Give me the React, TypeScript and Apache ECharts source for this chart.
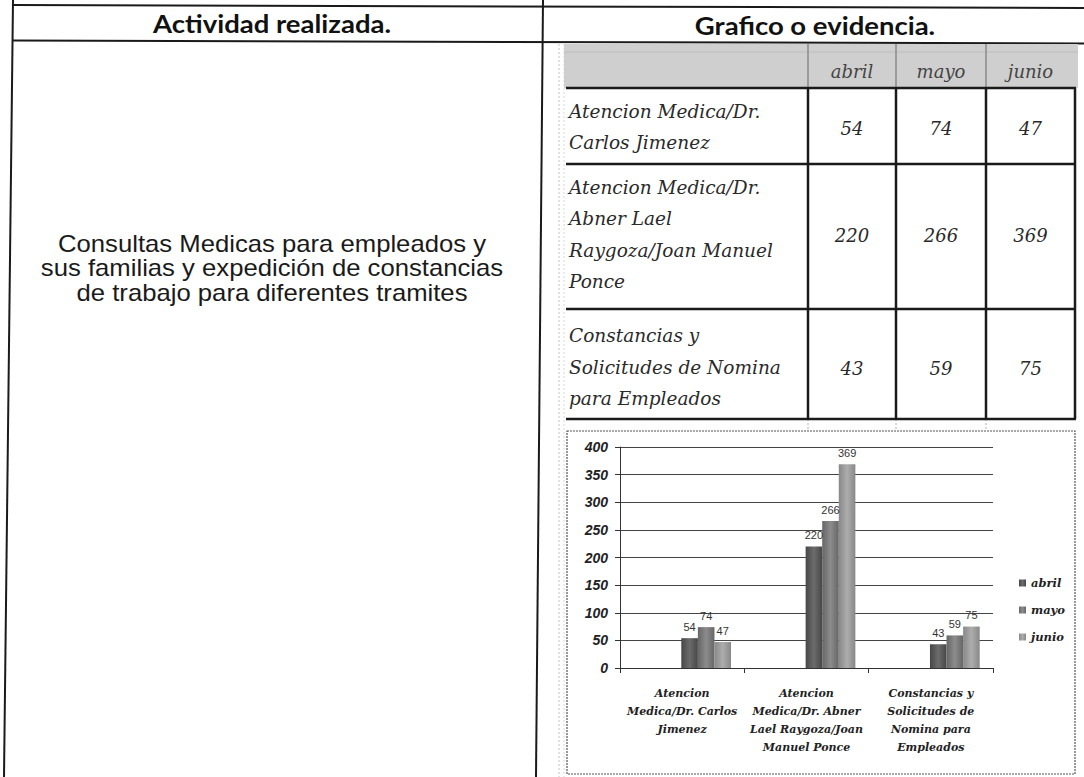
import React, { useEffect, useRef } from "react";
import * as echarts from "echarts";

// ---------- data ----------
const months = ["abril", "mayo", "junio"];
const categories = [
  "Atencion Medica/Dr. Carlos Jimenez",
  "Atencion Medica/Dr. Abner Lael Raygoza/Joan Manuel Ponce",
  "Constancias y Solicitudes de Nomina para Empleados",
];
const chartCategoryLabels = [
  "Atencion\nMedica/Dr. Carlos\nJimenez",
  "Atencion\nMedica/Dr. Abner\nLael Raygoza/Joan\nManuel Ponce",
  "Constancias y\nSolicitudes de\nNomina para\nEmpleados",
];
const tableRowLabels = [
  ["Atencion Medica/Dr.", "Carlos Jimenez"],
  ["Atencion Medica/Dr.", "Abner Lael", "Raygoza/Joan Manuel", "Ponce"],
  ["Constancias y", "Solicitudes de Nomina", "para Empleados"],
];
const abril = [54, 220, 43];
const mayo = [74, 266, 59];
const junio = [47, 369, 75];
const monthValues = [abril, mayo, junio];
const yMin = 0;
const yMax = 400;
const yInterval = 50;

const headerLeft = "Actividad realizada.";
const headerRight = "Grafico o evidencia.";
const activityText = [
  "Consultas Medicas para empleados y",
  "sus familias y expedición de constancias",
  "de trabajo para diferentes tramites",
];

// ---------- styling ----------
const barShades = [
  ["#474747", "#6c6c6c"],
  ["#666666", "#8c8c8c"],
  ["#888888", "#adadad"],
];

export default function App() {
  const ref = useRef<HTMLDivElement>(null);

  useEffect(() => {
    if (!ref.current) return;
    const chart = echarts.init(ref.current, undefined, { renderer: "svg" });

    const graphics: any[] = [];
    const line = (x1: number, y1: number, x2: number, y2: number, stroke: string, lw: number, dash?: number[]) =>
      graphics.push({
        type: "line",
        silent: true,
        shape: { x1, y1, x2, y2 },
        style: { stroke, lineWidth: lw, lineDash: dash },
      });
    const text = (x: number, y: number, t: string, s: any, extra: any = {}) =>
      graphics.push({
        type: "text",
        silent: true,
        x,
        y,
        ...extra,
        style: { text: t, verticalAlign: "middle", ...s },
      });

    // document table lines (slightly skewed scan)
    line(13, 0, 4, 777, "#1a1a1a", 2);
    line(543, 0, 536, 777, "#1a1a1a", 2);
    line(12, 5, 1084, 8, "#1a1a1a", 2);
    line(12, 40.5, 1084, 43.5, "#1a1a1a", 2);

    // header texts
    const headStyle = { align: "center", fontFamily: "Lato", fontWeight: "bold", fontSize: 25, fill: "#111" };
    text(272, 23, headerLeft, headStyle, { scaleX: 1.1 });
    text(815, 25, headerRight, headStyle, { scaleX: 1.1 });

    // activity description
    text(
      272,
      268,
      activityText.join("\n"),
      {
        align: "center",
        fontFamily: "Liberation Sans",
        fontSize: 24,
        lineHeight: 24.5,
        fill: "#1a1a1a",
      },
      { scaleX: 1.07 }
    );

    // spreadsheet faint grid lines
    line(559, 44, 559, 777, "#c4c4c4", 1, [2, 2]);
    line(564, 44, 564, 777, "#d8d8d8", 1, [2, 2]);

    // excel table
    const colEdges = [566, 808, 896, 986, 1075];
    const rowEdges = [88, 164, 309, 419];
    const rowCenters = [127, 234.5, 367];
    graphics.push({
      type: "rect",
      silent: true,
      shape: { x: 564, y: 44, width: 514, height: 44 },
      style: { fill: "#cfcfcf" },
    });
    line(564, 52, 1078, 52, "#bdbdbd", 1);
    for (let j = 1; j < colEdges.length - 1; j++) {
      line(colEdges[j], 44, colEdges[j], 88, "#8a8a8a", 1.5);
      line(colEdges[j], 419, colEdges[j], 431, "#b0b0b0", 1, [2, 2]);
    }
    rowEdges.forEach((y) => line(colEdges[0], y, colEdges[4] + 1, y, "#1a1a1a", 2.5));
    for (let j = 1; j < colEdges.length; j++) line(colEdges[j], rowEdges[0], colEdges[j], rowEdges[3], "#1a1a1a", 2.5);

    const serif = { fontFamily: "DejaVu Serif", fontStyle: "italic", fontSize: 18.5, fill: "#2a2a2a" };
    months.forEach((m, j) => {
      text((colEdges[j + 1] + colEdges[j + 2]) / 2, 71, m, { ...serif, fontSize: 18, align: "center", fill: "#444" });
    });
    tableRowLabels.forEach((lines, i) => {
      const lh = 31.5;
      const start = rowCenters[i] - ((lines.length - 1) * lh) / 2;
      lines.forEach((l, k) => text(569, start + k * lh, l, { ...serif, align: "left" }));
      monthValues.forEach((vals, j) => {
        text((colEdges[j + 1] + colEdges[j + 2]) / 2, rowCenters[i] + 1, String(vals[i]), {
          ...serif,
          fontSize: 18,
          align: "center",
        });
      });
    });

    // chart area border
    graphics.push({
      type: "rect",
      silent: true,
      shape: { x: 567, y: 431, width: 508, height: 343 },
      style: { fill: "none", stroke: "#555", lineWidth: 1.2, lineDash: [2, 1] },
    });

    const plotTop = 447;
    const plotHeight = 221;
    const plotLeft = 620;
    const plotWidth = 373;
    const barShift = 24;

    const option: any = {
      animation: false,
      backgroundColor: "#ffffff",
      graphic: graphics,
      grid: [
        { left: plotLeft, top: plotTop, width: plotWidth, height: plotHeight },
        { left: plotLeft + barShift, top: plotTop, width: plotWidth, height: plotHeight },
      ],
      legend: {
        data: months,
        orient: "vertical",
        left: 1014,
        top: 571,
        itemWidth: 7,
        itemHeight: 7,
        itemGap: 13,
        icon: "rect",
        textStyle: {
          fontFamily: "DejaVu Serif",
          fontStyle: "italic",
          fontWeight: "bold",
          fontSize: 11.5,
          lineHeight: 14,
          color: "#222",
        },
      },
      xAxis: [
        {
          type: "category",
          gridIndex: 0,
          data: categories,
          axisLine: { lineStyle: { color: "#333", width: 1 } },
          axisTick: { show: true, length: 5, lineStyle: { color: "#333" } },
          axisLabel: {
            interval: 0,
            margin: 16,
            formatter: (_v: string, i: number) => chartCategoryLabels[i],
            fontFamily: "DejaVu Serif",
            fontStyle: "italic",
            fontWeight: "bold",
            fontSize: 11,
            lineHeight: 18,
            color: "#222",
          },
        },
        {
          type: "category",
          gridIndex: 1,
          data: categories,
          show: false,
        },
      ],
      yAxis: [
        {
          type: "value",
          gridIndex: 0,
          min: yMin,
          max: yMax,
          interval: yInterval,
          axisLine: { show: true, lineStyle: { color: "#333", width: 1 } },
          axisTick: { show: true, length: 5, lineStyle: { color: "#333" } },
          axisLabel: {
            margin: 12,
            fontFamily: "Liberation Sans",
            fontStyle: "italic",
            fontWeight: "bold",
            fontSize: 14,
            color: "#222",
          },
          splitLine: { show: true, lineStyle: { color: "#444", width: 1 } },
        },
        {
          type: "value",
          gridIndex: 1,
          min: yMin,
          max: yMax,
          interval: yInterval,
          show: false,
          splitLine: { show: false },
        },
      ],
      series: months.map((m, j) => ({
        name: m,
        type: "bar",
        xAxisIndex: 1,
        yAxisIndex: 1,
        data: monthValues[j],
        barGap: "0%",
        barCategoryGap: "60%",
        itemStyle: {
          color: new echarts.graphic.LinearGradient(0, 0, 1, 0, [
            { offset: 0, color: barShades[j][0] },
            { offset: 0.5, color: barShades[j][1] },
            { offset: 1, color: barShades[j][0] },
          ]),
        },
        label: {
          show: true,
          position: "top",
          distance: 6,
          fontFamily: "Liberation Sans",
          fontSize: 11,
          color: "#333",
        },
      })),
    };

    chart.setOption(option);
    return () => chart.dispose();
  }, []);

  return (
    <div
      ref={ref}
      style={{ position: "fixed", left: 0, top: 0, width: 1084, height: 777, background: "#fff" }}
    />
  );
}
